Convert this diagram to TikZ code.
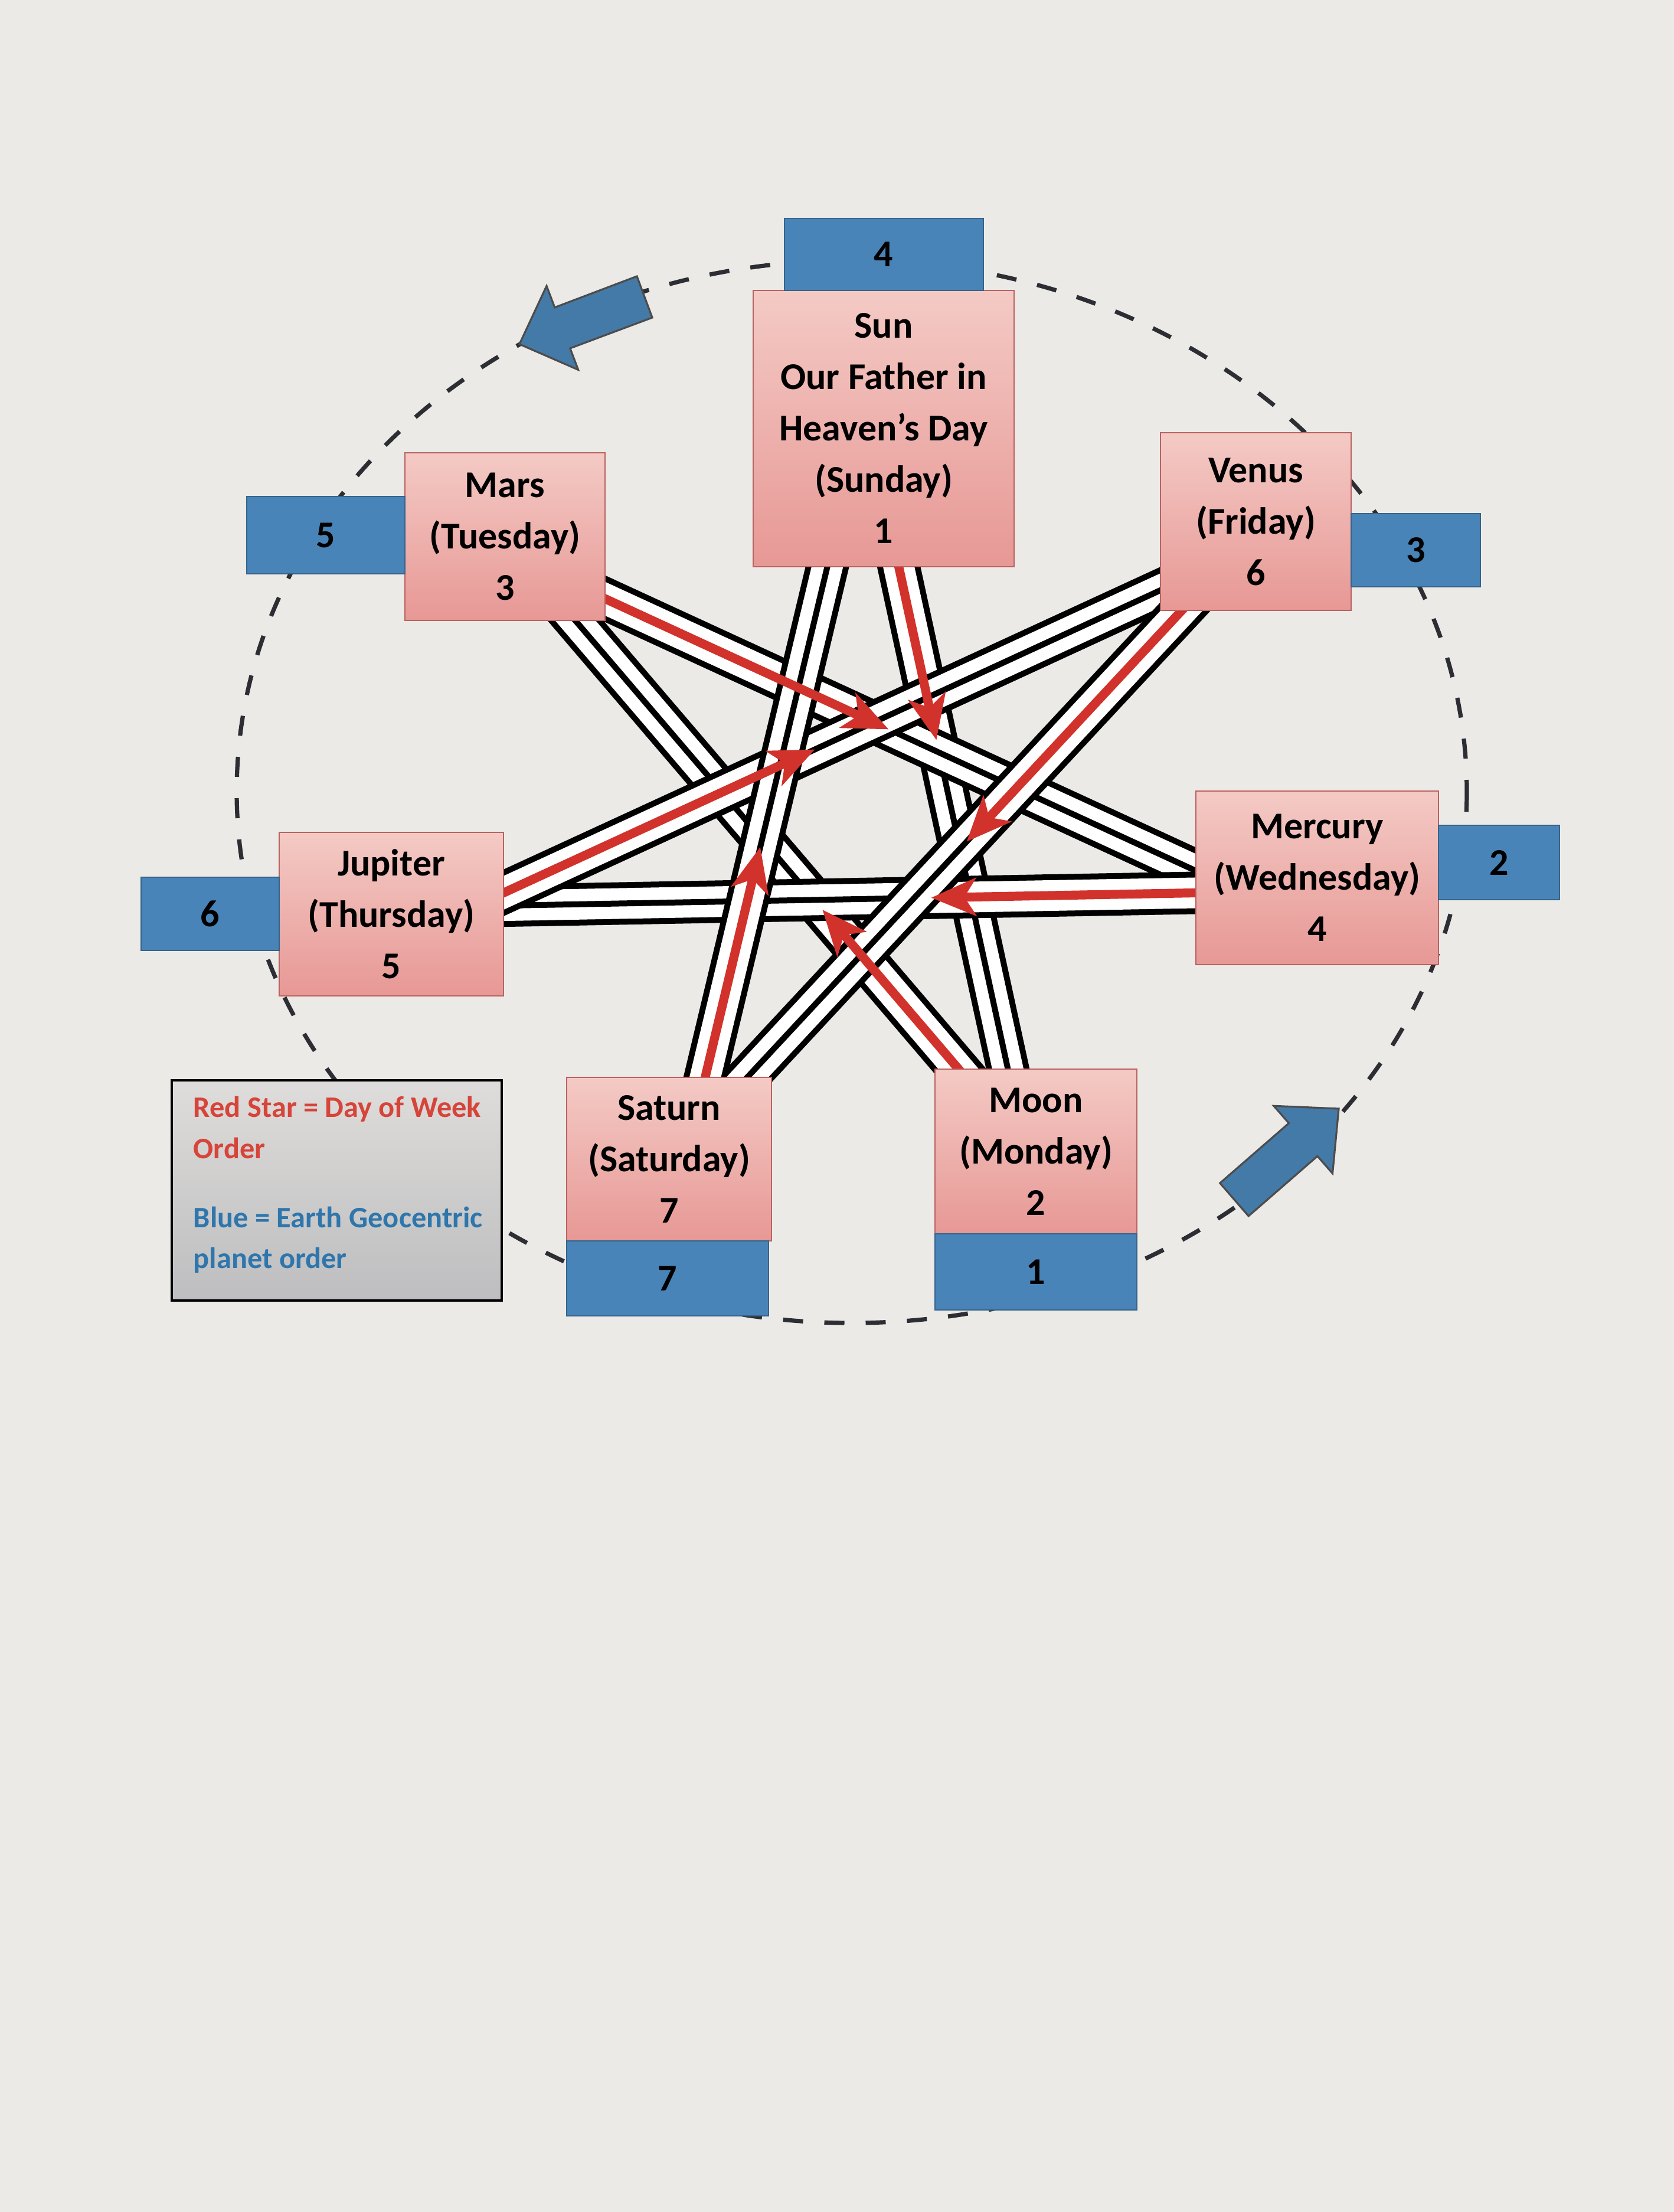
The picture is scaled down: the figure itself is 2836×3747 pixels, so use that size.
\documentclass[tikz,border=0pt]{standalone}
\usepackage{fontspec}
\setmainfont{Carlito}
\usepackage{xcolor}
\usetikzlibrary{arrows.meta,calc}

\definecolor{paper}{RGB}{235,234,231}
\definecolor{pinktop}{RGB}{244,202,197}
\definecolor{pinkbot}{RGB}{231,152,149}
\definecolor{pinkline}{RGB}{186,98,96}
\definecolor{boxblue}{RGB}{72,132,184}
\definecolor{arrowblue}{RGB}{68,122,168}
\definecolor{starred}{RGB}{210,50,44}
\definecolor{legred}{RGB}{214,68,58}
\definecolor{legblue}{RGB}{46,118,172}
\definecolor{legtop}{RGB}{222,221,219}
\definecolor{legbot}{RGB}{190,189,191}
\definecolor{dashgray}{RGB}{44,46,52}

\begin{document}
\begin{tikzpicture}[x=0.25pt,y=0.25pt,yscale=-1,xscale=1,
  daybox/.style={draw=pinkline, line width=0.6pt, top color=pinktop, bottom color=pinkbot, inner sep=0pt, outer sep=0pt, align=center, font=\bfseries\fontsize{16}{21.75}\selectfont},
  orderbox/.style={fill=boxblue, draw=boxblue!75!black, line width=0.5pt, inner sep=0pt, outer sep=0pt, font=\bfseries\fontsize{16}{20}\selectfont},
  band/.style={preaction={draw=black, line width=18pt}, draw=white, line width=13pt, postaction={draw=black, line width=2.5pt}},
  redstar/.style={draw=starred, line width=3.8pt, -{Stealth[length=19pt, width=16pt, inset=5pt]}},
  orbit/.style={draw=dashgray, line width=1.8pt, dash pattern=on 8.5pt off 9pt},
  turn/.style={fill=arrowblue, draw=black!70, line width=0.8pt, line join=miter}
]
%set diagram left start at 0, and has height of 3747
\useasboundingbox (0,0) rectangle (2836,3747);
\fill[paper] (0,0) rectangle (2836,3747);

%Shape: Ellipse [id:orbit]
\draw[orbit] (1443,1341) ellipse [x radius=260.5pt, y radius=225pt];

%Shape: Right Arrow [id:turn top]
\draw[turn] (1079,468) -- (939.8,520.8) -- (926,484.4) -- (880,583) -- (979.6,626.4) -- (965.8,590) -- (1105,538) -- cycle;
%Shape: Right Arrow [id:turn bottom]
\draw[turn] (2066.8,2004.1) -- (2183.5,1902.6) -- (2157.9,1873.3) -- (2268,1878) -- (2257.5,1987.7) -- (2231.9,1958.4) -- (2115.2,2059.9) -- cycle;

% star corners, hidden under the boxes
\coordinate (vsun) at (1465,695);
\coordinate (vvenus) at (2085,945);
\coordinate (vmercury) at (2104,1511);
\coordinate (vmoon) at (1736,1942);
\coordinate (vsaturn) at (1170,1928);
\coordinate (vjupiter) at (804,1535);
\coordinate (vmars) at (890,952);

%Straight Lines [id:star bands]
\draw[band] (vsun) -- (vmoon);
\draw[band] (vmoon) -- (vmars);
\draw[band] (vmars) -- (vmercury);
\draw[band] (vmercury) -- (vjupiter);
\draw[band] (vjupiter) -- (vvenus);
\draw[band] (vvenus) -- (vsaturn);
\draw[band] (vsaturn) -- (vsun);

%Straight Lines [id:day order]
\draw[redstar] (vsun) -- ($(vsun)!0.448!(vmoon)$);
\draw[redstar] (vmoon) -- ($(vmoon)!0.405!(vmars)$);
\draw[redstar] (vmars) -- ($(vmars)!0.507!(vmercury)$);
\draw[redstar] (vmercury) -- ($(vmercury)!0.405!(vjupiter)$);
\draw[redstar] (vjupiter) -- ($(vjupiter)!0.45!(vvenus)$);
\draw[redstar] (vvenus) -- ($(vvenus)!0.489!(vsaturn)$);
\draw[redstar] (vsaturn) -- ($(vsaturn)!0.40!(vsun)$);

% Text Node
\node[daybox, minimum width=110.5pt, minimum height=117pt] (sun) at (1497,726) {Sun\\Our Father in\\Heaven’s Day\\(Sunday)\\1};
% Text Node
\node[orderbox, minimum width=84.25pt, minimum height=30.5pt] (sunorder) at (1497,431) {4};

% Text Node
\node[daybox, minimum width=84.75pt, minimum height=71pt] (mars) at (855.5,909) {Mars\\(Tuesday)\\3};
% Text Node
\node[orderbox, minimum width=67pt, minimum height=32.75pt] (marsorder) at (552,906.5) {5};

% Text Node
\node[daybox, minimum width=80.75pt, minimum height=75.25pt] (venus) at (2127.5,883.5) {Venus\\(Friday)\\6};
% Text Node
\node[orderbox, minimum width=54.75pt, minimum height=31pt] (venusorder) at (2398.5,932) {3};

% Text Node
\node[daybox, minimum width=102.75pt, minimum height=73.5pt] (mercury) at (2231.5,1487) {Mercury\\(Wednesday)\\4};
% Text Node
\node[orderbox, minimum width=51.25pt, minimum height=31.5pt] (mercuryorder) at (2539.5,1461) {2};

% Text Node
\node[daybox, minimum width=95pt, minimum height=69.25pt] (jupiter) at (663,1548.5) {Jupiter\\(Thursday)\\5};
% Text Node
\node[orderbox, minimum width=58.5pt, minimum height=31pt] (jupiterorder) at (356,1548) {6};

% Text Node
\node[daybox, minimum width=86.75pt, minimum height=69.25pt] (saturn) at (1133.5,1963.5) {Saturn\\(Saturday)\\7};
% Text Node
\node[orderbox, minimum width=85.5pt, minimum height=31.75pt] (saturnorder) at (1131,2165.5) {7};

% Text Node
\node[daybox, minimum width=85.5pt, minimum height=69.75pt] (moon) at (1755,1950.5) {Moon\\(Monday)\\2};
% Text Node
\node[orderbox, minimum width=85.5pt, minimum height=32.25pt] (moonorder) at (1755,2154.5) {1};

%Shape: Rectangle [id:legend]
\node[draw=black, line width=1.2pt, top color=legtop, bottom color=legbot, minimum width=139.75pt, minimum height=93.25pt] (legend) at (570.5,2016.5) {};
% Text Node
\node[anchor=west, align=left, inner sep=0pt, font=\bfseries\fontsize{12.6}{17.3}\selectfont] (legendtext) at (327,2007) {\textcolor{legred}{Red Star = Day of Week}\\\textcolor{legred}{Order}\\[12pt]\textcolor{legblue}{Blue = Earth Geocentric}\\\textcolor{legblue}{planet order}};

\end{tikzpicture}
\end{document}
